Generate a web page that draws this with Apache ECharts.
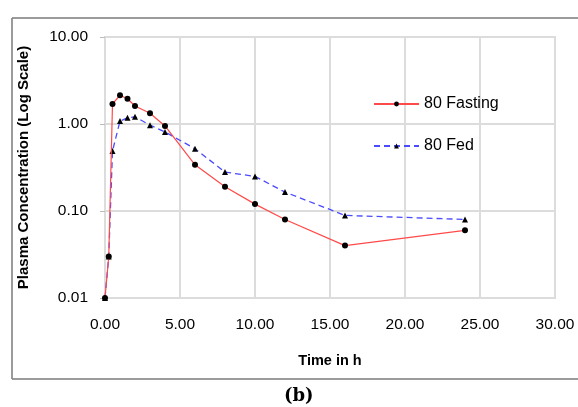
<!DOCTYPE html>
<html>
<head>
<meta charset="utf-8">
<script src="https://cdn.jsdelivr.net/npm/echarts@6/dist/echarts.min.js"></script>
<style>
  html, body { margin: 0; padding: 0; background: #fff; }
  #chart { width: 578px; height: 407px; }
</style>
</head>
<body>
<div id="chart"></div>
<script>
// Sampling times (h)
const times = [0, 0.25, 0.5, 1, 1.5, 2, 3, 4, 6, 8, 10, 12, 16, 24];
// Plasma concentration, fasting state
const fasting = [0.01, 0.03, 1.70, 2.14, 1.95, 1.61, 1.33, 0.95, 0.34, 0.19, 0.12, 0.08, 0.04, 0.06];
// Plasma concentration, fed state
const fed = [0.01, 0.03, 0.49, 1.08, 1.18, 1.21, 0.97, 0.81, 0.52, 0.28, 0.25, 0.165, 0.089, 0.08];

const seriesNames = ['80 Fasting', '80 Fed'];
const xTitle = 'Time in h';
const yTitle = 'Plasma Concentration (Log Scale)';
const panelLabel = '(b)';

const pairs = (xs, ys) => xs.map((x, i) => [x, ys[i]]);

const gridColor = '#dcdcdc';
const font = 'Liberation Sans, Arial, sans-serif';

const chart = echarts.init(document.getElementById('chart'), null, { renderer: 'canvas' });

chart.setOption({
  animation: false,
  backgroundColor: '#fff',
  grid: { left: 105, right: 23, top: 37, bottom: 109, show: true, borderColor: gridColor, borderWidth: 2 },
  legend: {
    orient: 'vertical',
    left: 373,
    top: 96,
    padding: 0,
    itemWidth: 45,
    itemHeight: 6,
    itemGap: 26,
    textStyle: { fontFamily: font, fontSize: 16, color: '#000' },
    data: seriesNames
  },
  xAxis: {
    type: 'value',
    min: 0,
    max: 30,
    interval: 5,
    name: xTitle,
    nameLocation: 'middle',
    nameGap: 55,
    nameTextStyle: { fontFamily: font, fontSize: 14.5, fontWeight: 'bold', color: '#000' },
    axisLine: { show: true, lineStyle: { color: gridColor, width: 2 } },
    axisTick: { show: false },
    axisLabel: { fontFamily: font, fontSize: 15.5, color: '#000', margin: 19, formatter: v => v.toFixed(2) },
    splitLine: { show: true, lineStyle: { color: gridColor, width: 2 } }
  },
  yAxis: {
    type: 'log',
    logBase: 10,
    min: 0.01,
    max: 10,
    name: yTitle,
    nameLocation: 'middle',
    nameGap: 74,
    nameRotate: 90,
    nameTextStyle: { fontFamily: font, fontSize: 15, fontWeight: 'bold', color: '#000' },
    axisLine: { show: true, lineStyle: { color: gridColor, width: 2 } },
    axisTick: { show: true, inside: false, length: 5, lineStyle: { color: '#bbbbbb' } },
    axisLabel: { fontFamily: font, fontSize: 15.5, color: '#000', margin: 17, formatter: v => v.toFixed(2) },
    splitLine: { show: true, lineStyle: { color: gridColor, width: 2 } }
  },
  graphic: [
    { type: 'line', shape: { x1: 12, y1: 18, x2: 578, y2: 18 }, style: { stroke: '#7a7a7a', lineWidth: 1.5 } },
    { type: 'line', shape: { x1: 12, y1: 18, x2: 12, y2: 379 }, style: { stroke: '#7a7a7a', lineWidth: 1.5 } },
    { type: 'line', shape: { x1: 12, y1: 379, x2: 578, y2: 379 }, style: { stroke: '#7a7a7a', lineWidth: 1.5 } },
    {
      type: 'text', left: 284, top: 387,
      style: { text: panelLabel, font: 'bold 18px "DejaVu Serif", serif', fill: '#000' }
    }
  ],
  series: [
    {
      name: seriesNames[0],
      type: 'line',
      data: pairs(times, fasting),
      symbol: 'circle',
      symbolSize: 6,
      itemStyle: { color: '#000' },
      lineStyle: { color: '#ff4a4a', width: 1.2, type: 'solid' },
      z: 3
    },
    {
      name: seriesNames[1],
      type: 'line',
      data: pairs(times, fed),
      symbol: 'triangle',
      symbolSize: 6,
      itemStyle: { color: '#000' },
      lineStyle: { color: '#4a4aff', width: 1.3, type: [6, 4] },
      z: 2
    }
  ]
});
</script>
</body>
</html>
